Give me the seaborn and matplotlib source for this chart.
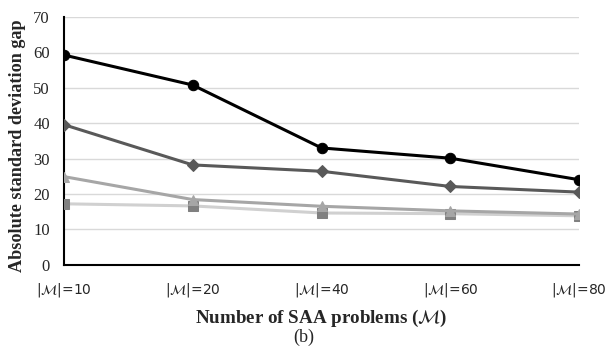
import matplotlib
matplotlib.use("Agg")
import matplotlib.pyplot as plt
import seaborn as sns
import pandas as pd

categories = [r"$|\mathcal{M}|$=10", r"$|\mathcal{M}|$=20", r"$|\mathcal{M}|$=40",
              r"$|\mathcal{M}|$=60", r"$|\mathcal{M}|$=80"]
series_circle = [59.3, 50.8, 33.0, 30.1, 24.0]
series_diamond = [39.6, 28.2, 26.4, 22.1, 20.5]
series_triangle = [24.9, 18.4, 16.5, 15.2, 14.3]
series_square = [17.2, 16.6, 14.6, 14.4, 13.8]

sns.set_style("white")
plt.rcParams['mathtext.fontset'] = 'dejavusans'

fig = plt.figure(figsize=(6.13, 3.5), dpi=100)
ax = fig.add_axes([0.104, 0.244, 0.841, 0.707])

x = list(range(len(categories)))
styles = [
    (series_square, "#d0d0d0", "#808080", "s", 7.5),
    (series_triangle, "#a6a6a6", "#a6a6a6", "^", 7.5),
    (series_diamond, "#595959", "#595959", "D", 6),
    (series_circle, "#000000", "#000000", "o", 7.5),
]
for vals, lc, mc, mk, ms in styles:
    df = pd.DataFrame({"x": x, "y": vals})
    sns.lineplot(data=df, x="x", y="y", ax=ax, color=lc, linewidth=2.2,
                 marker=mk, markersize=ms, markerfacecolor=mc,
                 markeredgecolor=mc, zorder=3)

ax.set_xlim(0, 4)
ax.set_ylim(0, 70)
ax.set_yticks(range(0, 71, 10))
ax.set_xticks(x)
ax.set_xticklabels(categories, fontsize=10, fontfamily="DejaVu Sans")
for t in ax.get_yticklabels():
    t.set_fontfamily("Liberation Serif")
    t.set_fontsize(12)
ax.tick_params(axis="y", length=0, pad=10)
ax.tick_params(axis="x", length=0, pad=12)
ax.yaxis.grid(True, color="#d9d9d9", linewidth=1)
ax.set_axisbelow(True)
for s in ["top", "right"]:
    ax.spines[s].set_visible(False)
for s in ["left", "bottom"]:
    ax.spines[s].set_color("black")
    ax.spines[s].set_linewidth(1.5)

ax.set_ylabel("Absolute standard deviation gap", fontfamily="Liberation Serif",
              fontweight="bold", fontsize=13.1)
ax.yaxis.set_label_coords(-0.074, 0.479)
ax.set_xlabel(r"Number of SAA problems ($\mathcal{M}$)", fontfamily="Liberation Serif",
              fontweight="bold", fontsize=13.7, labelpad=6)
fig.text(0.496, 0.037, "(b)", fontfamily="Liberation Serif", fontsize=13,
         ha="center", va="center")

fig.savefig("out.png", dpi=100)
